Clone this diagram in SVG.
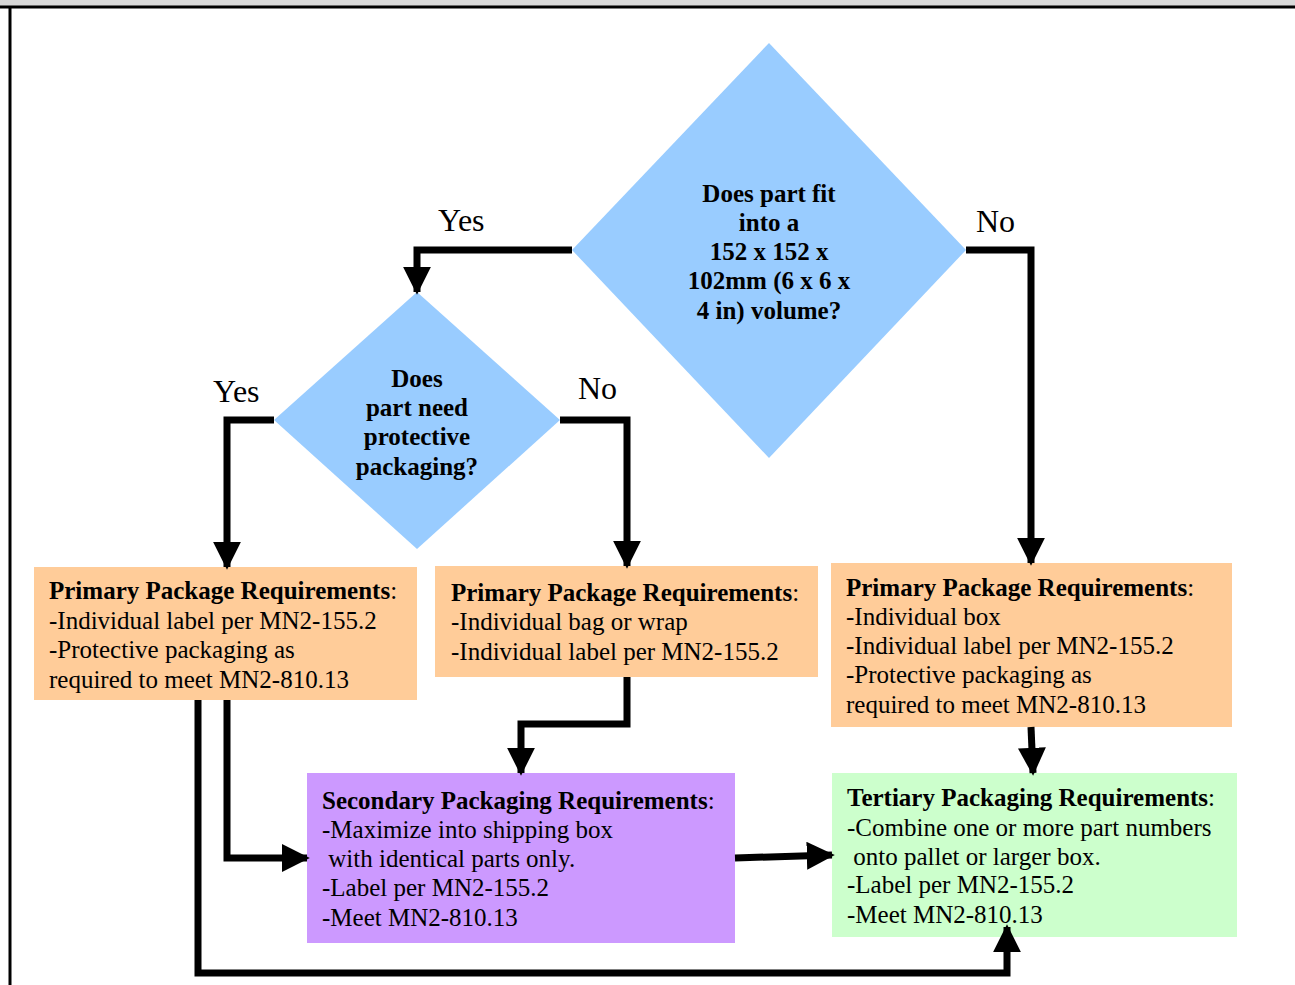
<svg xmlns="http://www.w3.org/2000/svg" width="1295" height="985" viewBox="0 0 1295 985">
<defs>
<style>
text{font-family:"Liberation Serif","Times New Roman",serif;fill:#000}
.t{font-size:25px}
.b{font-weight:bold}
.lbl{font-size:32px}
.dm{font-size:25px;font-weight:bold;text-anchor:middle}
.c{fill:none;stroke:#000;stroke-width:7;stroke-linejoin:miter}
</style>
<marker id="ah" markerWidth="4" markerHeight="4" refX="3.6" refY="2" orient="auto" markerUnits="strokeWidth" viewBox="0 0 4 4">
<path d="M0,0 L4,2 L0,4 Z" fill="#000"/>
</marker>
</defs>
<rect x="0" y="0" width="1295" height="985" fill="#fff"/>
<rect x="0" y="0" width="1295" height="6" fill="#d9d9d9"/>
<line x1="0" y1="7" x2="1295" y2="7" stroke="#000" stroke-width="3"/>
<line x1="10" y1="6" x2="10" y2="985" stroke="#000" stroke-width="3"/>

<g id="d1">
<polygon points="769,43 966,250 769,458 572,250" fill="#99ccff"/>
<text class="dm" x="769" y="202">Does part fit</text>
<text class="dm" x="769" y="231">into a</text>
<text class="dm" x="769" y="260">152 x 152 x</text>
<text class="dm" x="769" y="289">102mm (6 x 6 x</text>
<text class="dm" x="769" y="319">4 in) volume?</text>
</g>
<g id="d2">
<polygon points="417,292 560,420 417,549 274,420" fill="#99ccff"/>
<text class="dm" x="417" y="387">Does</text>
<text class="dm" x="417" y="416">part need</text>
<text class="dm" x="417" y="445">protective</text>
<text class="dm" x="417" y="475">packaging?</text>
</g>
<g id="b1">
<rect x="34" y="567" width="383" height="133" fill="#ffcc99"/>
<text class="t" x="49" y="599"><tspan class="b">Primary Package Requirements</tspan>:</text>
<text class="t" x="49" y="629">-Individual label per MN2-155.2</text>
<text class="t" x="49" y="658">-Protective packaging as</text>
<text class="t" x="49" y="688">required to meet MN2-810.13</text>
</g>
<g id="b2">
<rect x="435" y="566" width="383" height="111" fill="#ffcc99"/>
<text class="t" x="451" y="601"><tspan class="b">Primary Package Requirements</tspan>:</text>
<text class="t" x="451" y="630">-Individual bag or wrap</text>
<text class="t" x="451" y="660">-Individual label per MN2-155.2</text>
</g>
<g id="b3">
<rect x="831" y="563" width="401" height="164" fill="#ffcc99"/>
<text class="t" x="846" y="596"><tspan class="b">Primary Package Requirements</tspan>:</text>
<text class="t" x="846" y="625">-Individual box</text>
<text class="t" x="846" y="654">-Individual label per MN2-155.2</text>
<text class="t" x="846" y="683">-Protective packaging as</text>
<text class="t" x="846" y="713">required to meet MN2-810.13</text>
</g>
<g id="b4">
<rect x="307" y="773" width="428" height="170" fill="#cc99ff"/>
<text class="t" x="322" y="809"><tspan class="b">Secondary Packaging Requirements</tspan>:</text>
<text class="t" x="322" y="838">-Maximize into shipping box</text>
<text class="t" x="322" y="867" xml:space="preserve"> with identical parts only.</text>
<text class="t" x="322" y="896">-Label per MN2-155.2</text>
<text class="t" x="322" y="926">-Meet MN2-810.13</text>
</g>
<g id="b5">
<rect x="832" y="773" width="405" height="164" fill="#ccffcc"/>
<text class="t" x="847" y="806"><tspan class="b">Tertiary Packaging Requirements</tspan>:</text>
<text class="t" x="847" y="836">-Combine one or more part numbers</text>
<text class="t" x="847" y="865" xml:space="preserve"> onto pallet or larger box.</text>
<text class="t" x="847" y="893">-Label per MN2-155.2</text>
<text class="t" x="847" y="923">-Meet MN2-810.13</text>
</g>

<g id="connectors">
<polyline class="c" points="572,250 417,250 417,292" marker-end="url(#ah)"/>
<polyline class="c" points="274,420 227,420 227,567" marker-end="url(#ah)"/>
<polyline class="c" points="560,420 627,420 627,566" marker-end="url(#ah)"/>
<polyline class="c" points="966,250 1031,250 1031,563" marker-end="url(#ah)"/>
<polyline class="c" points="627,677 627,724 521,724 521,773" marker-end="url(#ah)"/>
<polyline class="c" points="227,700 227,858 307,858" marker-end="url(#ah)"/>
<polyline class="c" points="198,700 198,973 1007,973 1007,927" marker-end="url(#ah)"/>
<line class="c" x1="735" y1="858" x2="832" y2="855" marker-end="url(#ah)"/>
<line class="c" x1="1031" y1="727" x2="1033" y2="773" marker-end="url(#ah)"/>
<text class="lbl" x="438" y="231">Yes</text>
<text class="lbl" x="976" y="232">No</text>
<text class="lbl" x="213" y="402">Yes</text>
<text class="lbl" x="578" y="399">No</text>
</g>
</svg>
